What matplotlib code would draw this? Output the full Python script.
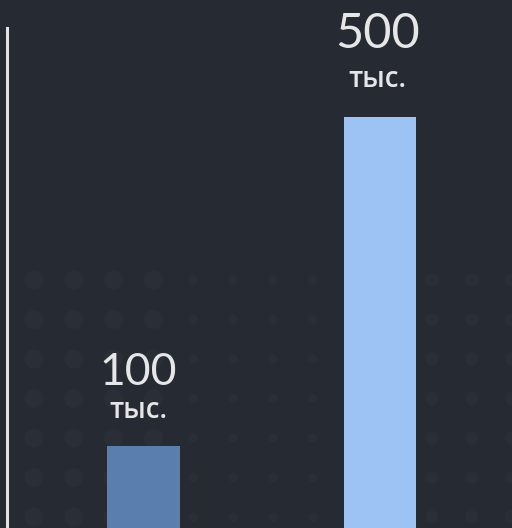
import matplotlib
matplotlib.use("Agg")
import matplotlib.pyplot as plt
import numpy as np

categories = ["A", "B"]
values = [100, 500]
value_labels = ["100", "500"]
unit_label = "тыс."
bar_colors = ["#5a7fae", "#9cc3f3"]

BG = "#252a33"
TEXT = "#e6e6e6"

fig = plt.figure(figsize=(5.12, 5.28), dpi=100, facecolor=BG)
ax = fig.add_axes([0, 0, 1, 1])
ax.set_facecolor(BG)
ax.set_xlim(0, 512)
ax.set_ylim(528, 0)
ax.axis("off")

# decorative faint dot pattern (background texture)
gx = np.arange(34, 520, 39.8)
gy = np.arange(280, 530, 39.5)
GX, GY = np.meshgrid(gx, gy)
sz = np.where(GX < 260, 190.0, 60.0)
sz = np.where((GX > 180) & (GX < 330), 45.0, sz)
sz = np.where(GX > 420, 90.0, sz)
ax.scatter(GX.ravel(), GY.ravel(), s=sz.ravel(), color="#292e37", linewidths=0, zorder=1)

# data axes overlay
dax = fig.add_axes([0, 0, 1, 1])
dax.patch.set_alpha(0)
x = list(range(len(categories)))
dax.bar(x, values, width=0.305, color=bar_colors, zorder=3)
dax.set_xlim(-0.607, 1.558)
dax.set_ylim(0, 642.5)
dax.axis("off")

# left vertical axis line
dax.axvline(-0.577, ymin=0, ymax=0.947, color="#e2e2e2", linewidth=2.2, zorder=4)

sizes = [32, 35]
num_offsets = [44, 50]
unit_offsets = [20, 22]
dx = [-4, -2]
for xi, v, lab, fs, no, uo, d in zip(x, values, value_labels, sizes, num_offsets, unit_offsets, dx):
    dax.annotate(lab, (xi, v), xytext=(d, no), textcoords="offset points",
                 ha="center", va="baseline", color=TEXT, fontsize=fs,
                 family=["Lato", "DejaVu Sans"])
    dax.annotate(unit_label, (xi, v), xytext=(d, uo), textcoords="offset points",
                 ha="center", va="baseline", color=TEXT, fontsize=20,
                 fontweight="semibold", family=["Open Sans", "DejaVu Sans"])

fig.savefig("out.png", dpi=100, facecolor=BG)
